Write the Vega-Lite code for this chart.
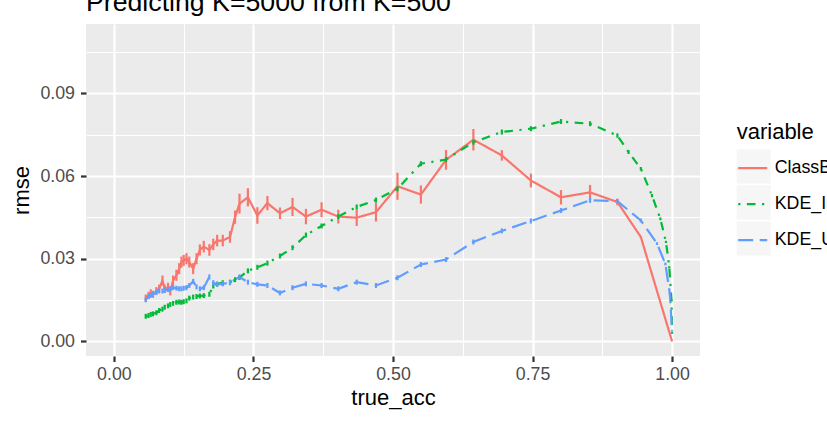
{
  "$schema": "https://vega.github.io/schema/vega-lite/v6.json",
  "width": 614,
  "height": 332,
  "autosize": "none",
  "padding": {"left": 86, "top": 24, "right": 127, "bottom": 68},
  "background": "#FFFFFF",
  "title": {"text": "Predicting K=5000 from K=500", "anchor": "start", "frame": "group", "fontSize": 26.7, "font": "Liberation Sans", "fontWeight": "normal", "color": "#000000", "baseline": "alphabetic", "offset": -13.7},
  "config": {
    "font": "Liberation Sans",
    "view": {"fill": "#EBEBEB", "stroke": null}
  },
  "data": {"values": [
    {"true_acc": 0.057, "rmse": 0.0157, "err": 0.0013, "variable": "ClassBayes"},
    {"true_acc": 0.062, "rmse": 0.0167, "err": 0.0013, "variable": "ClassBayes"},
    {"true_acc": 0.066, "rmse": 0.0176, "err": 0.0013, "variable": "ClassBayes"},
    {"true_acc": 0.070, "rmse": 0.0171, "err": 0.0013, "variable": "ClassBayes"},
    {"true_acc": 0.076, "rmse": 0.0183, "err": 0.0014, "variable": "ClassBayes"},
    {"true_acc": 0.081, "rmse": 0.0191, "err": 0.0015, "variable": "ClassBayes"},
    {"true_acc": 0.087, "rmse": 0.0221, "err": 0.0018, "variable": "ClassBayes"},
    {"true_acc": 0.091, "rmse": 0.0191, "err": 0.0015, "variable": "ClassBayes"},
    {"true_acc": 0.097, "rmse": 0.0197, "err": 0.0016, "variable": "ClassBayes"},
    {"true_acc": 0.101, "rmse": 0.0183, "err": 0.0016, "variable": "ClassBayes"},
    {"true_acc": 0.106, "rmse": 0.0221, "err": 0.0018, "variable": "ClassBayes"},
    {"true_acc": 0.112, "rmse": 0.0240, "err": 0.0020, "variable": "ClassBayes"},
    {"true_acc": 0.117, "rmse": 0.0264, "err": 0.0020, "variable": "ClassBayes"},
    {"true_acc": 0.121, "rmse": 0.0288, "err": 0.0020, "variable": "ClassBayes"},
    {"true_acc": 0.125, "rmse": 0.0294, "err": 0.0020, "variable": "ClassBayes"},
    {"true_acc": 0.130, "rmse": 0.0300, "err": 0.0020, "variable": "ClassBayes"},
    {"true_acc": 0.135, "rmse": 0.0288, "err": 0.0020, "variable": "ClassBayes"},
    {"true_acc": 0.142, "rmse": 0.0264, "err": 0.0020, "variable": "ClassBayes"},
    {"true_acc": 0.148, "rmse": 0.0300, "err": 0.0020, "variable": "ClassBayes"},
    {"true_acc": 0.154, "rmse": 0.0332, "err": 0.0020, "variable": "ClassBayes"},
    {"true_acc": 0.161, "rmse": 0.0344, "err": 0.0021, "variable": "ClassBayes"},
    {"true_acc": 0.171, "rmse": 0.0332, "err": 0.0021, "variable": "ClassBayes"},
    {"true_acc": 0.178, "rmse": 0.0352, "err": 0.0021, "variable": "ClassBayes"},
    {"true_acc": 0.185, "rmse": 0.0366, "err": 0.0021, "variable": "ClassBayes"},
    {"true_acc": 0.195, "rmse": 0.0366, "err": 0.0021, "variable": "ClassBayes"},
    {"true_acc": 0.208, "rmse": 0.0379, "err": 0.0021, "variable": "ClassBayes"},
    {"true_acc": 0.217, "rmse": 0.0451, "err": 0.0024, "variable": "ClassBayes"},
    {"true_acc": 0.225, "rmse": 0.0500, "err": 0.0036, "variable": "ClassBayes"},
    {"true_acc": 0.240, "rmse": 0.0523, "err": 0.0033, "variable": "ClassBayes"},
    {"true_acc": 0.257, "rmse": 0.0457, "err": 0.0030, "variable": "ClassBayes"},
    {"true_acc": 0.275, "rmse": 0.0502, "err": 0.0026, "variable": "ClassBayes"},
    {"true_acc": 0.2975, "rmse": 0.0465, "err": 0.0021, "variable": "ClassBayes"},
    {"true_acc": 0.320, "rmse": 0.0488, "err": 0.0033, "variable": "ClassBayes"},
    {"true_acc": 0.344, "rmse": 0.0453, "err": 0.0028, "variable": "ClassBayes"},
    {"true_acc": 0.372, "rmse": 0.0478, "err": 0.0027, "variable": "ClassBayes"},
    {"true_acc": 0.402, "rmse": 0.0453, "err": 0.0025, "variable": "ClassBayes"},
    {"true_acc": 0.435, "rmse": 0.0449, "err": 0.0030, "variable": "ClassBayes"},
    {"true_acc": 0.4695, "rmse": 0.0469, "err": 0.0034, "variable": "ClassBayes"},
    {"true_acc": 0.508, "rmse": 0.0563, "err": 0.0049, "variable": "ClassBayes"},
    {"true_acc": 0.550, "rmse": 0.0533, "err": 0.0033, "variable": "ClassBayes"},
    {"true_acc": 0.595, "rmse": 0.0659, "err": 0.0036, "variable": "ClassBayes"},
    {"true_acc": 0.644, "rmse": 0.0732, "err": 0.0039, "variable": "ClassBayes"},
    {"true_acc": 0.695, "rmse": 0.0675, "err": 0.0019, "variable": "ClassBayes"},
    {"true_acc": 0.747, "rmse": 0.0584, "err": 0.0025, "variable": "ClassBayes"},
    {"true_acc": 0.801, "rmse": 0.0523, "err": 0.0026, "variable": "ClassBayes"},
    {"true_acc": 0.853, "rmse": 0.0541, "err": 0.0027, "variable": "ClassBayes"},
    {"true_acc": 0.902, "rmse": 0.0506, "err": 0.0012, "variable": "ClassBayes"},
    {"true_acc": 0.944, "rmse": 0.0379, "err": 0.0003, "variable": "ClassBayes"},
    {"true_acc": 1.0, "rmse": 0.0, "err": 0.0, "variable": "ClassBayes"},

    {"true_acc": 0.057, "rmse": 0.0091, "err": 0.0009, "variable": "KDE_Indep"},
    {"true_acc": 0.062, "rmse": 0.0094, "err": 0.0009, "variable": "KDE_Indep"},
    {"true_acc": 0.066, "rmse": 0.0098, "err": 0.0009, "variable": "KDE_Indep"},
    {"true_acc": 0.070, "rmse": 0.0100, "err": 0.0009, "variable": "KDE_Indep"},
    {"true_acc": 0.076, "rmse": 0.0104, "err": 0.0009, "variable": "KDE_Indep"},
    {"true_acc": 0.081, "rmse": 0.0112, "err": 0.0009, "variable": "KDE_Indep"},
    {"true_acc": 0.087, "rmse": 0.0117, "err": 0.0009, "variable": "KDE_Indep"},
    {"true_acc": 0.091, "rmse": 0.0124, "err": 0.0009, "variable": "KDE_Indep"},
    {"true_acc": 0.097, "rmse": 0.0129, "err": 0.0009, "variable": "KDE_Indep"},
    {"true_acc": 0.101, "rmse": 0.0134, "err": 0.0009, "variable": "KDE_Indep"},
    {"true_acc": 0.106, "rmse": 0.0138, "err": 0.0009, "variable": "KDE_Indep"},
    {"true_acc": 0.112, "rmse": 0.0142, "err": 0.0009, "variable": "KDE_Indep"},
    {"true_acc": 0.117, "rmse": 0.0143, "err": 0.0009, "variable": "KDE_Indep"},
    {"true_acc": 0.121, "rmse": 0.0142, "err": 0.0009, "variable": "KDE_Indep"},
    {"true_acc": 0.125, "rmse": 0.0144, "err": 0.0009, "variable": "KDE_Indep"},
    {"true_acc": 0.130, "rmse": 0.0147, "err": 0.0009, "variable": "KDE_Indep"},
    {"true_acc": 0.135, "rmse": 0.0157, "err": 0.0009, "variable": "KDE_Indep"},
    {"true_acc": 0.142, "rmse": 0.0161, "err": 0.0009, "variable": "KDE_Indep"},
    {"true_acc": 0.148, "rmse": 0.0163, "err": 0.0009, "variable": "KDE_Indep"},
    {"true_acc": 0.154, "rmse": 0.0165, "err": 0.0009, "variable": "KDE_Indep"},
    {"true_acc": 0.161, "rmse": 0.0166, "err": 0.0009, "variable": "KDE_Indep"},
    {"true_acc": 0.171, "rmse": 0.0171, "err": 0.0009, "variable": "KDE_Indep"},
    {"true_acc": 0.178, "rmse": 0.0201, "err": 0.0009, "variable": "KDE_Indep"},
    {"true_acc": 0.185, "rmse": 0.0208, "err": 0.0009, "variable": "KDE_Indep"},
    {"true_acc": 0.195, "rmse": 0.0213, "err": 0.0009, "variable": "KDE_Indep"},
    {"true_acc": 0.208, "rmse": 0.0215, "err": 0.0009, "variable": "KDE_Indep"},
    {"true_acc": 0.217, "rmse": 0.0224, "err": 0.0009, "variable": "KDE_Indep"},
    {"true_acc": 0.225, "rmse": 0.0232, "err": 0.0009, "variable": "KDE_Indep"},
    {"true_acc": 0.240, "rmse": 0.0256, "err": 0.0009, "variable": "KDE_Indep"},
    {"true_acc": 0.257, "rmse": 0.0269, "err": 0.0009, "variable": "KDE_Indep"},
    {"true_acc": 0.275, "rmse": 0.0284, "err": 0.0009, "variable": "KDE_Indep"},
    {"true_acc": 0.2975, "rmse": 0.0310, "err": 0.0009, "variable": "KDE_Indep"},
    {"true_acc": 0.320, "rmse": 0.0340, "err": 0.0009, "variable": "KDE_Indep"},
    {"true_acc": 0.344, "rmse": 0.0386, "err": 0.0009, "variable": "KDE_Indep"},
    {"true_acc": 0.372, "rmse": 0.0419, "err": 0.0009, "variable": "KDE_Indep"},
    {"true_acc": 0.402, "rmse": 0.0453, "err": 0.0009, "variable": "KDE_Indep"},
    {"true_acc": 0.435, "rmse": 0.0488, "err": 0.0009, "variable": "KDE_Indep"},
    {"true_acc": 0.4695, "rmse": 0.0513, "err": 0.0009, "variable": "KDE_Indep"},
    {"true_acc": 0.508, "rmse": 0.0554, "err": 0.0009, "variable": "KDE_Indep"},
    {"true_acc": 0.550, "rmse": 0.0645, "err": 0.0009, "variable": "KDE_Indep"},
    {"true_acc": 0.595, "rmse": 0.0660, "err": 0.0009, "variable": "KDE_Indep"},
    {"true_acc": 0.644, "rmse": 0.0723, "err": 0.0009, "variable": "KDE_Indep"},
    {"true_acc": 0.695, "rmse": 0.0760, "err": 0.0009, "variable": "KDE_Indep"},
    {"true_acc": 0.747, "rmse": 0.0772, "err": 0.0009, "variable": "KDE_Indep"},
    {"true_acc": 0.801, "rmse": 0.0798, "err": 0.0009, "variable": "KDE_Indep"},
    {"true_acc": 0.853, "rmse": 0.0790, "err": 0.0009, "variable": "KDE_Indep"},
    {"true_acc": 0.902, "rmse": 0.0747, "err": 0.0008, "variable": "KDE_Indep"},
    {"true_acc": 0.922, "rmse": 0.0687, "err": 0.0007, "variable": "KDE_Indep"},
    {"true_acc": 0.944, "rmse": 0.0627, "err": 0.0006, "variable": "KDE_Indep"},
    {"true_acc": 0.964, "rmse": 0.0529, "err": 0.0006, "variable": "KDE_Indep"},
    {"true_acc": 0.979, "rmse": 0.0445, "err": 0.0005, "variable": "KDE_Indep"},
    {"true_acc": 0.989, "rmse": 0.0361, "err": 0.0004, "variable": "KDE_Indep"},
    {"true_acc": 0.995, "rmse": 0.0269, "err": 0.0004, "variable": "KDE_Indep"},
    {"true_acc": 0.999, "rmse": 0.0148, "err": 0.0003, "variable": "KDE_Indep"},
    {"true_acc": 1.0, "rmse": 0.0030, "err": 0.0002, "variable": "KDE_Indep"},

    {"true_acc": 0.057, "rmse": 0.0151, "err": 0.0009, "variable": "KDE_Unif"},
    {"true_acc": 0.062, "rmse": 0.0163, "err": 0.0009, "variable": "KDE_Unif"},
    {"true_acc": 0.066, "rmse": 0.0167, "err": 0.0009, "variable": "KDE_Unif"},
    {"true_acc": 0.070, "rmse": 0.0171, "err": 0.0009, "variable": "KDE_Unif"},
    {"true_acc": 0.076, "rmse": 0.0178, "err": 0.0009, "variable": "KDE_Unif"},
    {"true_acc": 0.081, "rmse": 0.0183, "err": 0.0009, "variable": "KDE_Unif"},
    {"true_acc": 0.087, "rmse": 0.0183, "err": 0.0009, "variable": "KDE_Unif"},
    {"true_acc": 0.091, "rmse": 0.0185, "err": 0.0009, "variable": "KDE_Unif"},
    {"true_acc": 0.097, "rmse": 0.0188, "err": 0.0009, "variable": "KDE_Unif"},
    {"true_acc": 0.101, "rmse": 0.0191, "err": 0.0009, "variable": "KDE_Unif"},
    {"true_acc": 0.106, "rmse": 0.0195, "err": 0.0009, "variable": "KDE_Unif"},
    {"true_acc": 0.112, "rmse": 0.0193, "err": 0.0009, "variable": "KDE_Unif"},
    {"true_acc": 0.117, "rmse": 0.0191, "err": 0.0009, "variable": "KDE_Unif"},
    {"true_acc": 0.121, "rmse": 0.0191, "err": 0.0009, "variable": "KDE_Unif"},
    {"true_acc": 0.125, "rmse": 0.0193, "err": 0.0009, "variable": "KDE_Unif"},
    {"true_acc": 0.130, "rmse": 0.0195, "err": 0.0009, "variable": "KDE_Unif"},
    {"true_acc": 0.135, "rmse": 0.0203, "err": 0.0009, "variable": "KDE_Unif"},
    {"true_acc": 0.142, "rmse": 0.0218, "err": 0.0009, "variable": "KDE_Unif"},
    {"true_acc": 0.148, "rmse": 0.0198, "err": 0.0009, "variable": "KDE_Unif"},
    {"true_acc": 0.154, "rmse": 0.0191, "err": 0.0009, "variable": "KDE_Unif"},
    {"true_acc": 0.161, "rmse": 0.0195, "err": 0.0009, "variable": "KDE_Unif"},
    {"true_acc": 0.171, "rmse": 0.0234, "err": 0.0009, "variable": "KDE_Unif"},
    {"true_acc": 0.178, "rmse": 0.0213, "err": 0.0009, "variable": "KDE_Unif"},
    {"true_acc": 0.185, "rmse": 0.0207, "err": 0.0009, "variable": "KDE_Unif"},
    {"true_acc": 0.195, "rmse": 0.0209, "err": 0.0009, "variable": "KDE_Unif"},
    {"true_acc": 0.208, "rmse": 0.0213, "err": 0.0009, "variable": "KDE_Unif"},
    {"true_acc": 0.225, "rmse": 0.0234, "err": 0.0009, "variable": "KDE_Unif"},
    {"true_acc": 0.240, "rmse": 0.0215, "err": 0.0009, "variable": "KDE_Unif"},
    {"true_acc": 0.257, "rmse": 0.0207, "err": 0.0009, "variable": "KDE_Unif"},
    {"true_acc": 0.275, "rmse": 0.0203, "err": 0.0009, "variable": "KDE_Unif"},
    {"true_acc": 0.2975, "rmse": 0.0176, "err": 0.0009, "variable": "KDE_Unif"},
    {"true_acc": 0.320, "rmse": 0.0195, "err": 0.0009, "variable": "KDE_Unif"},
    {"true_acc": 0.344, "rmse": 0.0209, "err": 0.0009, "variable": "KDE_Unif"},
    {"true_acc": 0.372, "rmse": 0.0203, "err": 0.0009, "variable": "KDE_Unif"},
    {"true_acc": 0.402, "rmse": 0.0191, "err": 0.0009, "variable": "KDE_Unif"},
    {"true_acc": 0.435, "rmse": 0.0215, "err": 0.0009, "variable": "KDE_Unif"},
    {"true_acc": 0.4695, "rmse": 0.0203, "err": 0.0009, "variable": "KDE_Unif"},
    {"true_acc": 0.508, "rmse": 0.0231, "err": 0.0009, "variable": "KDE_Unif"},
    {"true_acc": 0.550, "rmse": 0.0279, "err": 0.0009, "variable": "KDE_Unif"},
    {"true_acc": 0.595, "rmse": 0.0297, "err": 0.0009, "variable": "KDE_Unif"},
    {"true_acc": 0.644, "rmse": 0.0361, "err": 0.0009, "variable": "KDE_Unif"},
    {"true_acc": 0.695, "rmse": 0.0401, "err": 0.0009, "variable": "KDE_Unif"},
    {"true_acc": 0.747, "rmse": 0.0437, "err": 0.0009, "variable": "KDE_Unif"},
    {"true_acc": 0.801, "rmse": 0.0475, "err": 0.0009, "variable": "KDE_Unif"},
    {"true_acc": 0.853, "rmse": 0.0512, "err": 0.0009, "variable": "KDE_Unif"},
    {"true_acc": 0.902, "rmse": 0.0509, "err": 0.0008, "variable": "KDE_Unif"},
    {"true_acc": 0.944, "rmse": 0.0439, "err": 0.0007, "variable": "KDE_Unif"},
    {"true_acc": 0.973, "rmse": 0.0355, "err": 0.0005, "variable": "KDE_Unif"},
    {"true_acc": 0.988, "rmse": 0.0281, "err": 0.0005, "variable": "KDE_Unif"},
    {"true_acc": 0.996, "rmse": 0.0173, "err": 0.0004, "variable": "KDE_Unif"},
    {"true_acc": 1.0, "rmse": 0.0040, "err": 0.0002, "variable": "KDE_Unif"}
  ]},
  "encoding": {
    "x": {
      "field": "true_acc", "type": "quantitative",
      "scale": {"domain": [-0.05, 1.05], "nice": false, "zero": false},
      "axis": {
        "values": [0, 0.125, 0.25, 0.375, 0.5, 0.625, 0.75, 0.875, 1],
        "labelExpr": "indexof([0.125, 0.375, 0.625, 0.875], datum.value) >= 0 ? '' : format(datum.value, '.2f')",
        "orient": "bottom", "domain": false,
        "tickColor": "#333333", "tickWidth": 2.2, "tickSize": 5.5,
        "tickOpacity": {"condition": {"test": "indexof([0.125, 0.375, 0.625, 0.875], datum.value) >= 0", "value": 0}, "value": 1},
        "labelFontSize": 17.8, "labelColor": "#4D4D4D", "labelPadding": 3.5, "labelOverlap": false, "labelFlush": false,
        "grid": true, "gridColor": "#FFFFFF",
        "gridWidth": {"condition": {"test": "indexof([0.125, 0.375, 0.625, 0.875], datum.value) >= 0", "value": 1.1}, "value": 2.2},
        "title": "true_acc", "titleFontSize": 22, "titleFontWeight": "normal", "titleColor": "#000000", "titlePadding": 5
      }
    },
    "y": {
      "field": "rmse", "type": "quantitative",
      "scale": {"domain": [-0.0053, 0.1152], "nice": false, "zero": false},
      "axis": {
        "values": [0, 0.015, 0.03, 0.045, 0.06, 0.075, 0.09, 0.105],
        "labelExpr": "indexof([0.015, 0.045, 0.075, 0.105], datum.value) >= 0 ? '' : format(datum.value, '.2f')",
        "orient": "left", "domain": false,
        "tickColor": "#333333", "tickWidth": 2.2, "tickSize": 5.5,
        "tickOpacity": {"condition": {"test": "indexof([0.015, 0.045, 0.075, 0.105], datum.value) >= 0", "value": 0}, "value": 1},
        "labelFontSize": 17.8, "labelColor": "#4D4D4D", "labelPadding": 6, "labelOverlap": false, "labelFlush": false,
        "grid": true, "gridColor": "#FFFFFF",
        "gridWidth": {"condition": {"test": "indexof([0.015, 0.045, 0.075, 0.105], datum.value) >= 0", "value": 1.1}, "value": 2.2},
        "title": "rmse", "titleFontSize": 22, "titleFontWeight": "normal", "titleColor": "#000000", "titlePadding": 6
      }
    },
    "color": {
      "field": "variable", "type": "nominal",
      "scale": {"domain": ["ClassBayes", "KDE_Indep", "KDE_Unif"], "range": ["#F8766D", "#00BA38", "#619CFF"]},
      "legend": {
        "title": "variable", "orient": "none", "legendX": 650.7, "legendY": 97.6, "zindex": 2,
        "titleFontSize": 22, "titleFontWeight": "normal", "titleColor": "#000000", "titlePadding": 8.5,
        "labelFontSize": 17.8, "labelColor": "#000000", "labelOffset": 6, "labelLimit": 400,
        "symbolType": "stroke", "symbolSize": 1156, "symbolStrokeWidth": 2.2, "rowPadding": 11,
        "encode": {
          "symbols": {"update": {"size": {"value": 841}, "strokeWidth": {"value": 2.2}}}
        }
      }
    }
  },
  "layer": [
    {
      "mark": {"type": "point", "filled": true, "size": 0, "fill": "#F2F2F2", "strokeWidth": 0},
      "encoding": {
        "color": {"value": "#F2F2F2"},
        "shape": {
          "field": "variable", "type": "nominal",
          "scale": {"range": ["square", "square", "square"]},
          "legend": {
            "title": null, "orient": "none", "legendX": 650.7, "legendY": 125.5, "zindex": 0,
            "symbolType": "square", "symbolSize": 1156, "symbolFillColor": "#F2F2F2", "symbolStrokeWidth": 0,
            "labelExpr": "''", "labelFontSize": 17.8, "labelOffset": 0, "rowPadding": 2,
            "encode": {
              "symbols": {"update": {"fill": {"value": "#F2F2F2"}, "stroke": {"value": "#F2F2F2"}, "strokeWidth": {"value": 0}, "opacity": {"value": 1}, "size": {"value": 1156}}}
            }
          }
        }
      }
    },
    {
      "mark": {"type": "line", "strokeWidth": 2.2, "strokeCap": "butt"},
      "encoding": {
        "strokeDash": {
          "field": "variable", "type": "nominal",
          "scale": {"domain": ["ClassBayes", "KDE_Indep", "KDE_Unif"], "range": [[1, 0], [2.2, 6.5, 8.6, 6.5], [15, 6.5]]},
          "legend": {
            "title": "variable", "orient": "none", "legendX": 650.7, "legendY": 97.6, "zindex": 2,
            "titleFontSize": 22, "titleFontWeight": "normal", "titleColor": "#000000", "titlePadding": 8.5,
            "labelFontSize": 17.8, "labelColor": "#000000", "labelOffset": 6, "labelLimit": 400,
            "symbolType": "stroke", "symbolSize": 1156, "symbolStrokeWidth": 2.2, "rowPadding": 11
          }
        }
      }
    },
    {
      "mark": {"type": "errorbar", "thickness": 2.2},
      "encoding": {
        "yError": {"field": "err"}
      }
    }
  ]
}
